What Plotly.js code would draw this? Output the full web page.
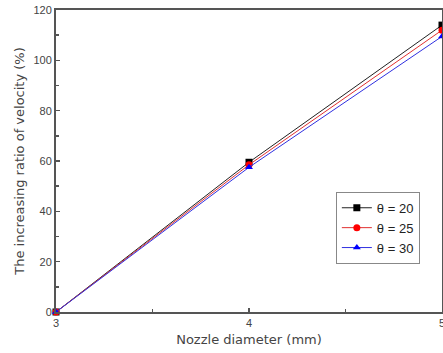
<!DOCTYPE html>
<html><head><meta charset="utf-8">
<script src="https://cdn.plot.ly/plotly-3.0.1.min.js"></script>
<style>html,body{margin:0;padding:0;background:#fff}</style>
</head><body>
<div id="chart" style="width:443px;height:353px"></div>
<script>
const diameters = [3, 4, 5];
const theta20 = [0, 59.5, 114];
const theta25 = [0, 58.5, 112];
const theta30 = [0, 57.5, 109.5];
const seriesNames = ['θ = 20', 'θ = 25', 'θ = 30'];

const traces = [
  {x: diameters, y: theta20, name: seriesNames[0], mode: 'lines+markers', cliponaxis: false,
   line: {color: '#222', width: 1}, marker: {symbol: 'square', size: 7, color: '#000'}},
  {x: diameters, y: theta25, name: seriesNames[1], mode: 'lines+markers', cliponaxis: false,
   line: {color: '#e03030', width: 1}, marker: {symbol: 'circle', size: 7, color: '#ff0000'}},
  {x: diameters, y: theta30, name: seriesNames[2], mode: 'lines+markers', cliponaxis: false,
   line: {color: '#3030e0', width: 1}, marker: {symbol: 'triangle-up', size: 7, color: '#0000ff'}}
];

const layout = {
  width: 443, height: 353,
  margin: {l: 56, r: 1, t: 10, b: 41},
  paper_bgcolor: '#fff', plot_bgcolor: '#fff',
  font: {family: 'Liberation Sans, Arial, sans-serif', color: '#444'},
  showlegend: true,
  legend: {x: 0.725, y: 0.398, xanchor: 'left', yanchor: 'top',
    bgcolor: '#fff', bordercolor: '#888', borderwidth: 1,
    font: {size: 13, color: '#222'}, tracegroupgap: 0, itemwidth: 30},
  xaxis: {
    range: [3, 5], dtick: 1, tick0: 3, showgrid: false, zeroline: false,
    showline: true, linecolor: '#555', linewidth: 2, mirror: true,
    ticks: 'inside', ticklen: 4, tickcolor: '#555', tickwidth: 1.5,
    minor: {dtick: 0.5, ticks: 'inside', ticklen: 3, tickcolor: '#555', showgrid: false},
    ticklabeloverflow: 'allow',
    tickfont: {size: 11, color: '#444'},
    title: {text: 'Nozzle diameter (mm)', font: {family: 'DejaVu Sans, sans-serif', size: 13, color: '#444'}, standoff: 7}
  },
  yaxis: {
    range: [0, 120], dtick: 20, showgrid: false, zeroline: false,
    showline: true, linecolor: '#555', linewidth: 2, mirror: true,
    ticks: 'inside', ticklen: 4, tickcolor: '#555', tickwidth: 1.5,
    minor: {dtick: 10, ticks: 'inside', ticklen: 3, tickcolor: '#555', showgrid: false},
    tickfont: {size: 11, color: '#444'},
    title: {text: 'The increasing ratio of velocity (%)', font: {family: 'DejaVu Sans, sans-serif', size: 13, color: '#444'}, standoff: 6}
  }
};

Plotly.newPlot('chart', traces, layout, {displayModeBar: false, staticPlot: true});
</script>
</body></html>
